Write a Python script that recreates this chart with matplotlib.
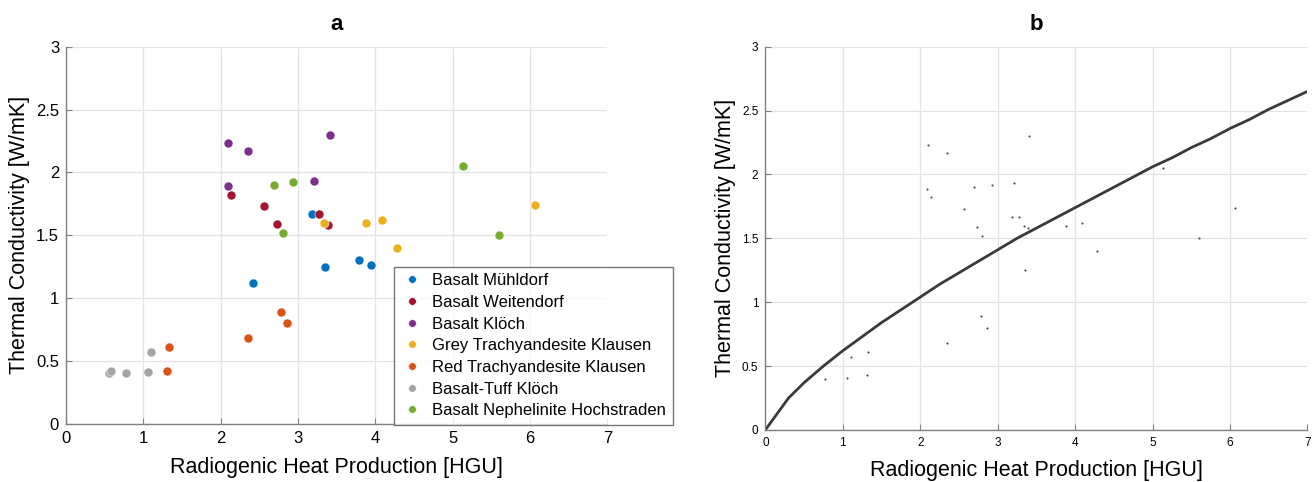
import matplotlib.pyplot as plt
import numpy as np

plt.rcParams['font.family'] = ['Liberation Sans', 'DejaVu Sans']

# data: (heat production [HGU], thermal conductivity [W/mK])
groups = ['Basalt Mühldorf', 'Basalt Weitendorf', 'Basalt Klöch',
          'Grey Trachyandesite Klausen', 'Red Trachyandesite Klausen',
          'Basalt-Tuff Klöch', 'Basalt Nephelinite Hochstraden']
colors = ['#0072BD', '#A2142F', '#7E2F8E', '#EDB120', '#D95319', '#A5A5A5', '#77AC30']

muehldorf_x = [2.42, 3.18, 3.35, 3.79, 3.95]
muehldorf_y = [1.12, 1.67, 1.25, 1.30, 1.26]
weitendorf_x = [2.14, 2.56, 2.73, 3.27, 3.39]
weitendorf_y = [1.82, 1.73, 1.59, 1.67, 1.58]
kloech_x = [2.10, 2.35, 3.41, 2.09, 3.21]
kloech_y = [2.23, 2.17, 2.30, 1.89, 1.93]
grey_x = [3.34, 3.88, 4.09, 4.28, 6.07]
grey_y = [1.60, 1.60, 1.62, 1.40, 1.74]
red_x = [2.78, 2.86, 2.35, 1.33, 1.31]
red_y = [0.89, 0.80, 0.68, 0.61, 0.42]
tuff_x = [0.55, 0.58, 0.77, 1.06, 1.10]
tuff_y = [0.40, 0.42, 0.40, 0.41, 0.57]
hoch_x = [2.69, 2.93, 2.80, 5.13, 5.60]
hoch_y = [1.90, 1.92, 1.52, 2.05, 1.50]

xs = [muehldorf_x, weitendorf_x, kloech_x, grey_x, red_x, tuff_x, hoch_x]
ys = [muehldorf_y, weitendorf_y, kloech_y, grey_y, red_y, tuff_y, hoch_y]

# points shown in panel b (three Mühldorf samples are not plotted there)
b_x = [2.10, 2.35, 3.41, 2.09, 2.14, 2.69, 2.93, 3.21, 2.56, 3.18, 3.27, 3.34,
       3.39, 2.73, 2.80, 3.88, 4.09, 4.28, 3.35, 5.13, 5.60, 6.07, 2.78, 2.86,
       2.35, 1.10, 1.33, 0.77, 1.06, 1.31, 0.57]
b_y = [2.23, 2.17, 2.30, 1.89, 1.82, 1.90, 1.92, 1.93, 1.73, 1.67, 1.67, 1.60,
       1.58, 1.59, 1.52, 1.60, 1.62, 1.40, 1.25, 2.05, 1.50, 1.74, 0.89, 0.80,
       0.68, 0.57, 0.61, 0.40, 0.41, 0.43, 0.41]

# fitted curve (panel b)
fit_x = [0, 0.3, 0.5, 0.75, 1, 1.25, 1.5, 1.75, 2, 2.25, 2.5, 2.75, 3, 3.25, 3.5,
         3.75, 4, 4.25, 4.5, 4.75, 5, 5.25, 5.5, 5.75, 6, 6.25, 6.5, 6.75, 7]
fit_y = [0, 0.25, 0.37, 0.50, 0.62, 0.73, 0.84, 0.94, 1.04, 1.14, 1.23, 1.32,
         1.41, 1.50, 1.58, 1.66, 1.74, 1.82, 1.90, 1.98, 2.06, 2.13, 2.21, 2.28,
         2.36, 2.43, 2.51, 2.58, 2.65]

fig = plt.figure(figsize=(13.15, 4.82), dpi=100)
ax1 = fig.add_axes([0.0502, 0.121, 0.4116, 0.782])
ax2 = fig.add_axes([0.582, 0.108, 0.4122, 0.795])

def style(ax, tsize):
    ax.set_xlim(0, 7)
    ax.set_ylim(0, 3)
    ax.set_xticks(range(0, 8))
    ax.set_yticks(np.arange(0, 3.01, 0.5))
    ax.set_yticklabels(['0', '0.5', '1', '1.5', '2', '2.5', '3'])
    ax.grid(True, color='#e3e3e3', lw=0.9)
    ax.set_axisbelow(True)
    for s in ['top', 'right']:
        ax.spines[s].set_visible(False)
    for s in ['left', 'bottom']:
        ax.spines[s].set_color('#808080')
        ax.spines[s].set_linewidth(1.0)
    ax.tick_params(direction='in', length=4, color='#808080', labelsize=tsize, pad=5)
    ax.set_xlabel('Radiogenic Heat Production [HGU]', fontsize=15.5, labelpad=8)
    ax.set_ylabel('Thermal Conductivity [W/mK]', fontsize=15.5, labelpad=4)

# panel a
for x, y, c, lab in zip(xs, ys, colors, groups):
    ax1.plot(x, y, 'o', color=c, markersize=6.5, markeredgecolor='white',
             markeredgewidth=0.4, label=lab, clip_on=False)
style(ax1, 12)
ax1.set_title('a', fontsize=16, fontweight='bold', pad=12)
leg = ax1.legend(loc='lower right', bbox_to_anchor=(0.5118, 0.1183),
                 bbox_transform=fig.transFigure, fontsize=12, frameon=True,
                 fancybox=False, edgecolor='#555555', handletextpad=0.6,
                 handlelength=1.3, borderpad=0.4, labelspacing=0.40,
                 borderaxespad=0, markerscale=0.85)
leg.get_frame().set_linewidth(1.0)

# panel b
ax2.plot(fit_x, fit_y, color='#3a3a3a', lw=2)
ax2.plot(b_x, b_y, 'o', color='#444444', markersize=1.5, markeredgewidth=0)
style(ax2, 8.5)
ax2.set_title('b', fontsize=16, fontweight='bold', pad=12)

plt.savefig('out.png', dpi=100)
